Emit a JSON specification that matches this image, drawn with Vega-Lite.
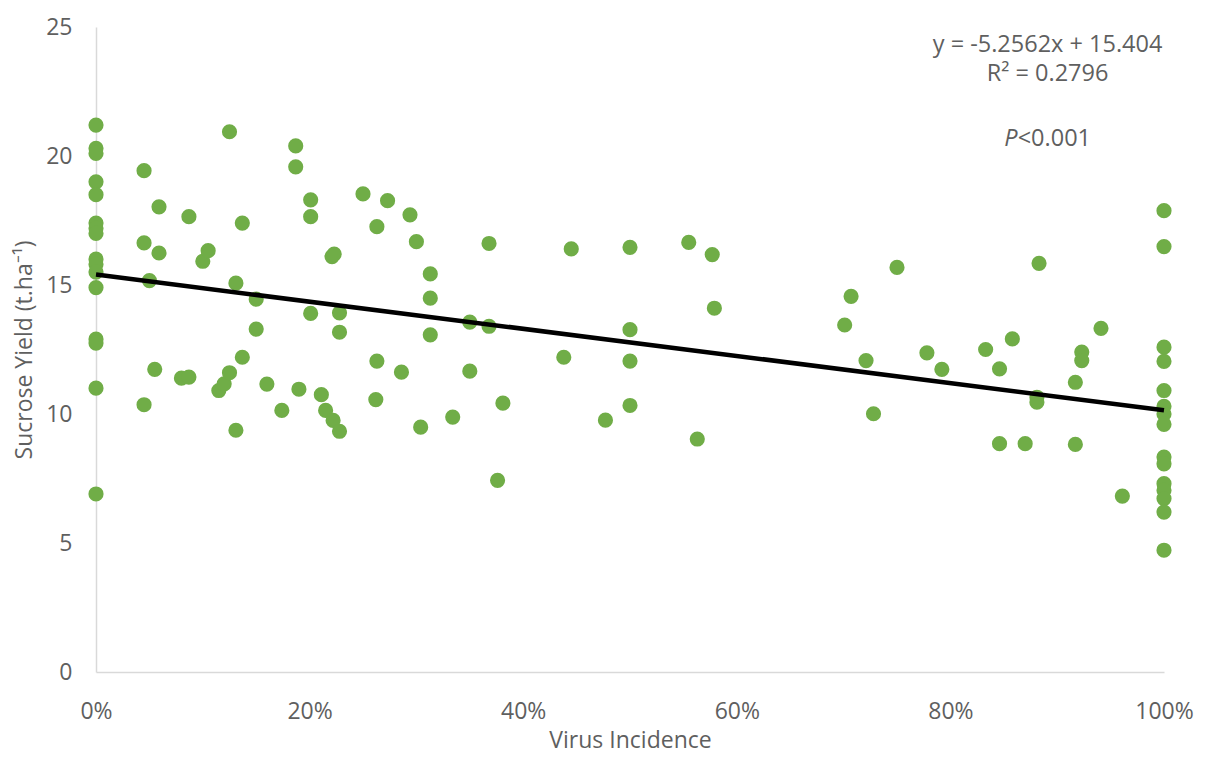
{
  "$schema": "https://vega.github.io/schema/vega-lite/v6.json",
  "width": 1068,
  "height": 645,
  "autosize": {"type": "none"},
  "padding": {"left": 96, "top": 27, "right": 42, "bottom": 85},
  "background": "white",
  "config": {
    "view": {"stroke": null},
    "font": "Open Sans",
    "axis": {"labelFont": "Open Sans", "titleFont": "Open Sans", "labelColor": "#5f5f5f", "titleColor": "#5f5f5f", "titleFontWeight": "normal", "labelFontSize": 23, "titleFontSize": 23, "ticks": false, "grid": false, "domainColor": "#d9d9d9", "domainWidth": 1.5}
  },
  "datasets": {
    "pts": [
      {"x": 0, "y": 21.2}, {"x": 0, "y": 20.3}, {"x": 0, "y": 20.1}, {"x": 0, "y": 19.0}, {"x": 0, "y": 18.5},
      {"x": 0, "y": 17.4}, {"x": 0, "y": 17.2}, {"x": 0, "y": 17.0}, {"x": 0, "y": 16.0}, {"x": 0, "y": 15.8},
      {"x": 0, "y": 15.5}, {"x": 0, "y": 14.9}, {"x": 0, "y": 12.9}, {"x": 0, "y": 12.75}, {"x": 0, "y": 11.0},
      {"x": 0, "y": 6.9},
      {"x": 0.045, "y": 19.43}, {"x": 0.045, "y": 16.63}, {"x": 0.045, "y": 10.36},
      {"x": 0.05, "y": 15.17}, {"x": 0.055, "y": 11.73},
      {"x": 0.059, "y": 18.03}, {"x": 0.059, "y": 16.24},
      {"x": 0.08, "y": 11.39}, {"x": 0.087, "y": 17.65}, {"x": 0.087, "y": 11.43},
      {"x": 0.10, "y": 15.92}, {"x": 0.105, "y": 16.33},
      {"x": 0.115, "y": 10.91}, {"x": 0.12, "y": 11.17},
      {"x": 0.125, "y": 20.94}, {"x": 0.125, "y": 11.6},
      {"x": 0.131, "y": 15.07}, {"x": 0.131, "y": 9.37},
      {"x": 0.137, "y": 17.4}, {"x": 0.137, "y": 12.2},
      {"x": 0.15, "y": 14.45}, {"x": 0.15, "y": 13.29},
      {"x": 0.16, "y": 11.16}, {"x": 0.174, "y": 10.14},
      {"x": 0.187, "y": 20.39}, {"x": 0.187, "y": 19.58}, {"x": 0.19, "y": 10.96},
      {"x": 0.201, "y": 18.3}, {"x": 0.201, "y": 17.65}, {"x": 0.201, "y": 13.9},
      {"x": 0.211, "y": 10.75}, {"x": 0.215, "y": 10.14},
      {"x": 0.221, "y": 16.1}, {"x": 0.223, "y": 16.2}, {"x": 0.222, "y": 9.75},
      {"x": 0.228, "y": 13.92}, {"x": 0.228, "y": 13.17}, {"x": 0.228, "y": 9.33},
      {"x": 0.25, "y": 18.53}, {"x": 0.262, "y": 10.56},
      {"x": 0.263, "y": 17.26}, {"x": 0.263, "y": 12.05},
      {"x": 0.273, "y": 18.27}, {"x": 0.286, "y": 11.62}, {"x": 0.294, "y": 17.72},
      {"x": 0.30, "y": 16.68}, {"x": 0.304, "y": 9.49},
      {"x": 0.313, "y": 15.43}, {"x": 0.313, "y": 14.49}, {"x": 0.313, "y": 13.07},
      {"x": 0.334, "y": 9.88},
      {"x": 0.35, "y": 13.56}, {"x": 0.35, "y": 11.66},
      {"x": 0.368, "y": 16.61}, {"x": 0.368, "y": 13.4},
      {"x": 0.376, "y": 7.43}, {"x": 0.381, "y": 10.42},
      {"x": 0.438, "y": 12.2}, {"x": 0.445, "y": 16.4}, {"x": 0.477, "y": 9.76},
      {"x": 0.50, "y": 16.46}, {"x": 0.50, "y": 13.27}, {"x": 0.50, "y": 12.05}, {"x": 0.50, "y": 10.33},
      {"x": 0.555, "y": 16.65}, {"x": 0.563, "y": 9.03}, {"x": 0.577, "y": 16.18}, {"x": 0.579, "y": 14.1},
      {"x": 0.701, "y": 13.45}, {"x": 0.707, "y": 14.56}, {"x": 0.721, "y": 12.07}, {"x": 0.728, "y": 10.01},
      {"x": 0.75, "y": 15.68}, {"x": 0.778, "y": 12.37}, {"x": 0.792, "y": 11.73},
      {"x": 0.833, "y": 12.5}, {"x": 0.846, "y": 11.75}, {"x": 0.846, "y": 8.85},
      {"x": 0.858, "y": 12.91}, {"x": 0.87, "y": 8.85},
      {"x": 0.881, "y": 10.65}, {"x": 0.881, "y": 10.46}, {"x": 0.883, "y": 15.84},
      {"x": 0.917, "y": 11.23}, {"x": 0.917, "y": 8.82},
      {"x": 0.923, "y": 12.4}, {"x": 0.923, "y": 12.07},
      {"x": 0.941, "y": 13.32}, {"x": 0.961, "y": 6.82},
      {"x": 1, "y": 17.88}, {"x": 1, "y": 16.49}, {"x": 1, "y": 12.59}, {"x": 1, "y": 12.04},
      {"x": 1, "y": 10.91}, {"x": 1, "y": 10.3}, {"x": 1, "y": 10.0}, {"x": 1, "y": 9.6},
      {"x": 1, "y": 8.33}, {"x": 1, "y": 8.07}, {"x": 1, "y": 7.3}, {"x": 1, "y": 7.04},
      {"x": 1, "y": 6.72}, {"x": 1, "y": 6.2}, {"x": 1, "y": 4.72}
    ],
    "trend": [{"x": 0, "y": 15.404}, {"x": 1, "y": 10.1478}],
    "notes": [
      {"x": 0.891, "y": 24.3, "label": "y = -5.2562x + 15.404"},
      {"x": 0.891, "y": 23.18, "label": "R² = 0.2796"}
    ],
    "pnote": [{"x": 0.863, "y": 20.67, "label": "<0.001"}],
    "pital": [{"x": 0.863, "y": 20.67, "label": "P"}]
  },
  "layer": [
    {
      "data": {"name": "pts"},
      "mark": {"type": "point", "filled": true, "size": 230, "color": "#70AD47", "opacity": 1},
      "encoding": {
        "x": {"field": "x", "type": "quantitative", "scale": {"domain": [0, 1], "nice": false, "zero": false},
          "axis": {"format": ".0%", "values": [0, 0.2, 0.4, 0.6, 0.8, 1], "title": "Virus Incidence", "labelPadding": 28, "titlePadding": 6, "labelFlush": false}},
        "y": {"field": "y", "type": "quantitative", "scale": {"domain": [0, 25], "nice": false},
          "axis": {"values": [0, 5, 10, 15, 20, 25], "title": "Sucrose Yield (t.ha⁻¹)", "labelPadding": 24, "titlePadding": 9}}
      }
    },
    {
      "data": {"name": "trend"},
      "mark": {"type": "line", "color": "black", "strokeWidth": 4.5},
      "encoding": {
        "x": {"field": "x", "type": "quantitative"},
        "y": {"field": "y", "type": "quantitative"}
      }
    },
    {
      "data": {"name": "notes"},
      "mark": {"type": "text", "fontSize": 23.5, "color": "#5f5f5f", "align": "center", "baseline": "middle"},
      "encoding": {
        "x": {"field": "x", "type": "quantitative"},
        "y": {"field": "y", "type": "quantitative"},
        "text": {"field": "label"}
      }
    },
    {
      "data": {"name": "pnote"},
      "mark": {"type": "text", "fontSize": 23.5, "color": "#5f5f5f", "align": "left", "baseline": "middle"},
      "encoding": {
        "x": {"field": "x", "type": "quantitative"},
        "y": {"field": "y", "type": "quantitative"},
        "text": {"field": "label"}
      }
    },
    {
      "data": {"name": "pital"},
      "mark": {"type": "text", "fontSize": 23.5, "fontStyle": "italic", "color": "#5f5f5f", "align": "right", "baseline": "middle"},
      "encoding": {
        "x": {"field": "x", "type": "quantitative"},
        "y": {"field": "y", "type": "quantitative"},
        "text": {"field": "label"}
      }
    }
  ]
}
